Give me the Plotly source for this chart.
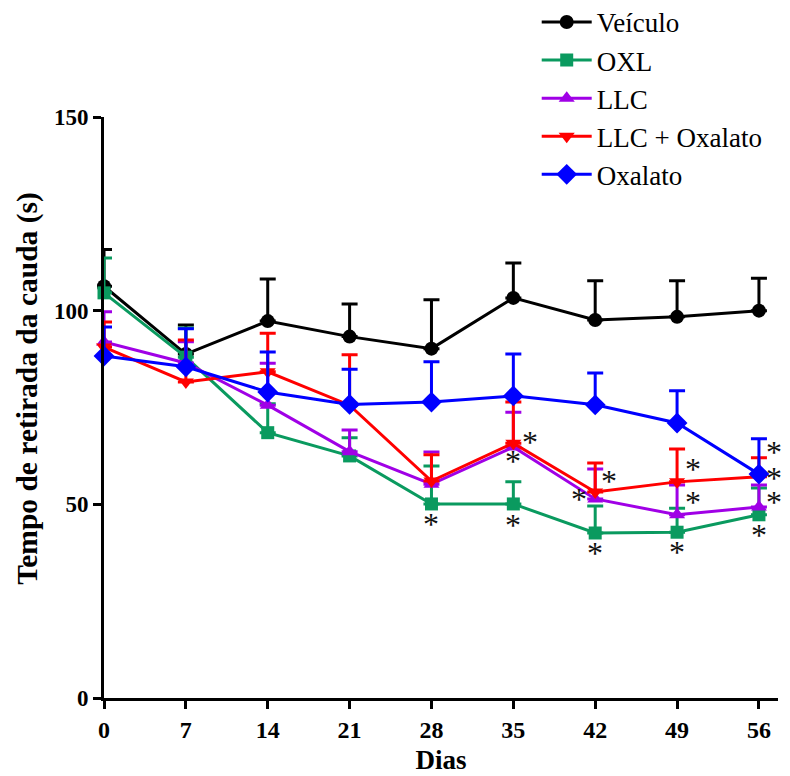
import plotly.graph_objects as go

days = [0, 7, 14, 21, 28, 35, 42, 49, 56]
tick_days = [0, 7, 14, 21, 28, 35, 42, 49, 56]
y_ticks = [0, 50, 100, 150]

names = ["Veículo", "OXL", "LLC", "LLC + Oxalato", "Oxalato"]

veiculo = [106.3, 88.8, 97.3, 93.3, 90.2, 103.3, 97.6, 98.4, 100.0]
veiculo_top = [115.8, 96.3, 108.2, 101.7, 102.8, 112.3, 107.7, 107.7, 108.4]

oxl = [104.6, 88.0, 68.5, 62.5, 50.1, 50.1, 42.6, 42.8, 47.3]
oxl_top = [113.6, 95.5, 76.0, 67.2, 59.9, 55.8, 49.6, 49.0, 54.2]

llc = [91.9, 86.5, 75.6, 63.6, 55.2, 64.8, 51.4, 47.3, 49.3]
llc_top = [99.7, 92.0, 86.4, 69.2, 63.5, 73.8, 59.1, 55.0, 55.0]

llc_ox = [90.6, 81.6, 84.2, 75.6, 56.0, 65.8, 53.2, 55.8, 57.1]
llc_ox_top = [97.1, 92.4, 94.2, 88.6, 62.8, 76.4, 60.7, 64.3, 62.0]

oxalato = [88.3, 85.5, 79.0, 75.8, 76.4, 78.0, 75.7, 71.0, 57.8]
oxalato_top = [95.8, 95.3, 89.3, 84.9, 86.8, 88.8, 83.9, 79.3, 66.9]

# significance marks: (series index, day, horizontal shift px, vertical shift px)
stars = [
    (1, 28, 0, -20),
    (3, 35, 17, 1), (2, 35, 0, -14), (1, 35, 0, -21),
    (2, 42, -16, 0), (3, 42, 14, 11), (1, 42, 0, -20),
    (3, 49, 16, 13), (2, 49, 16, 13), (1, 49, 0, -20),
    (3, 56, 15, 25), (3, 56, 15, -1), (2, 56, 15, 5), (1, 56, 0, -20),
]

series = [veiculo, oxl, llc, llc_ox, oxalato]
tops = [veiculo_top, oxl_top, llc_top, llc_ox_top, oxalato_top]
colors = ["#000000", "#0a9a5f", "#a000e6", "#ff0000", "#0000ff"]
symbols = ["circle", "square", "triangle-up", "triangle-down", "diamond"]
msizes = [14, 13, 14, 14, 16]

fig = go.Figure()
for i in range(5):
    err = [t - v for t, v in zip(tops[i], series[i])]
    fig.add_trace(go.Scatter(
        x=days, y=series[i], name=names[i], mode="lines+markers",
        legendgroup=names[i],
        line=dict(color=colors[i], width=3),
        marker=dict(symbol=symbols[i], size=msizes[i], color=colors[i]),
        error_y=dict(type="data", symmetric=False, array=err,
                     arrayminus=[0] * len(err), width=8, thickness=3,
                     color=colors[i]),
        cliponaxis=False,
    ))

annotations = []
for si, d, dx, dy in stars:
    yv = series[si][days.index(d)]
    annotations.append(dict(
        x=d, y=yv, xref="x", yref="y", text="*", showarrow=False,
        xshift=dx, yshift=dy,
        font=dict(family="Liberation Serif", size=32, color="#111111"),
    ))

annotations.append(dict(
    x=-0.1128, y=0.534, xref="paper", yref="paper",
    text="<b>Tempo de retirada da cauda (s)</b>", textangle=-90,
    showarrow=False, xanchor="center", yanchor="middle",
    font=dict(family="Liberation Serif", size=29.5, color="#000000"),
))

fig.update_layout(
    width=790, height=776,
    margin=dict(l=104, r=12, t=117, b=78, autoexpand=False),
    paper_bgcolor="white", plot_bgcolor="white",
    font=dict(family="Liberation Serif", color="#000000"),
    showlegend=True,
    legend=dict(x=0.642, y=1.205, xanchor="left", yanchor="top",
                font=dict(family="Liberation Serif", size=27),
                bgcolor="rgba(0,0,0,0)", tracegroupgap=0,
                itemwidth=50),
    annotations=annotations,
    xaxis=dict(range=[0, 57.63], tickvals=tick_days,
               ticktext=["<b>%d</b>" % t for t in tick_days],
               showgrid=False, zeroline=False, showline=True,
               linecolor="black", linewidth=3, ticks="outside",
               ticklen=8, tickwidth=3, tickcolor="black", automargin=False,
               tickfont=dict(family="Liberation Serif", size=24),
               title=dict(text="<b>Dias</b>", standoff=9,
                          font=dict(family="Liberation Serif", size=27))),
    yaxis=dict(range=[0, 150], tickvals=y_ticks,
               ticktext=["<b>%d</b>" % t for t in y_ticks],
               showgrid=False, zeroline=False, showline=True,
               linecolor="black", linewidth=3, ticks="outside",
               ticklen=8, tickwidth=3, tickcolor="black", automargin=False,
               tickfont=dict(family="Liberation Serif", size=23)),
)

fig.write_html("out.html", config={"displayModeBar": False},
               post_script="document.body.style.margin='0px';")
